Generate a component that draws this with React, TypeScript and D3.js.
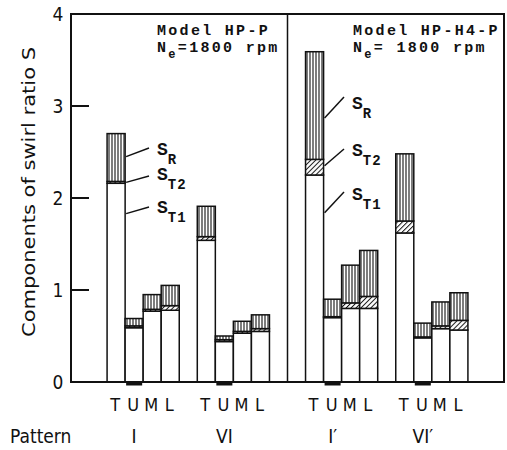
import React from "react";
import * as d3 from "d3";

// bar letters under each pattern
const positions = ["T", "U", "M", "L"];
const patterns = ["I", "VI", "I\u2032", "VI\u2032"];
// first slot (in bar widths) of each pattern group
const groupStart = [2, 7, 13, 18];

// components of swirl ratio, one row per pattern, order T U M L
const sT1 = [
  [2.16, 0.59, 0.77, 0.78],
  [1.54, 0.44, 0.53, 0.55],
  [2.25, 0.7, 0.8, 0.8],
  [1.62, 0.48, 0.58, 0.565],
];
const sT2 = [
  [0.02, 0.02, 0.02, 0.05],
  [0.04, 0.02, 0.02, 0.03],
  [0.17, 0.01, 0.06, 0.13],
  [0.13, 0.01, 0.03, 0.105],
];
const sR = [
  [0.52, 0.08, 0.16, 0.22],
  [0.33, 0.04, 0.11, 0.15],
  [1.17, 0.19, 0.41, 0.5],
  [0.73, 0.15, 0.26, 0.3],
];

const yTicks = [0, 1, 2, 3, 4];

const W = 507;
const H = 450;
const left = 71;
const right = 504;
const top = 14;
const bottom = 382;

const sans = "'DejaVu Sans Condensed', 'DejaVu Sans', sans-serif";
const mono = "'Liberation Mono', 'DejaVu Sans Mono', monospace";

export default function App() {
  const x = d3
    .scaleBand<number>()
    .domain(d3.range(24))
    .range([left, right])
    .padding(0);
  const y = d3.scaleLinear().domain([0, 4]).range([bottom, top]);
  const bw = x.bandwidth();

  const bars: any[] = [];
  patterns.forEach((p, gi) => {
    positions.forEach((pos, i) => {
      const slot = groupStart[gi] + i;
      const x0 = x(slot)!;
      const a = sT1[gi][i];
      const b = a + sT2[gi][i];
      const c = b + sR[gi][i];
      bars.push({ key: `${gi}-${i}`, x0, a, b, c, pos, gi, i });
    });
  });

  // label annotations, one per panel: T bar of I and I'
  const annot = [
    {
      gi: 0,
      lx: 157,
      items: [
        { v: 2.45, ly: 148, label: "R", ty: 155 },
        { v: 2.17, ly: 176, label: "T2", ty: 180 },
        { v: 1.83, ly: 207, label: "T1", ty: 213 },
      ],
    },
    {
      gi: 2,
      lx: 352,
      items: [
        { v: 2.87, ly: 97, label: "R", ty: 109 },
        { v: 2.35, ly: 149, label: "T2", ty: 156 },
        { v: 1.84, ly: 192, label: "T1", ty: 200 },
      ],
    },
  ];

  return (
    <svg
      width={W}
      height={H}
      style={{ position: "absolute", left: 0, top: 0, background: "#fff" }}
    >
      <defs>
        <pattern id="vert" width={3} height={4} patternUnits="userSpaceOnUse">
          <rect width={3} height={4} fill="#fff" />
          <line x1={1} y1={0} x2={1} y2={4} stroke="#111" strokeWidth={1.1} />
        </pattern>
        <pattern
          id="diag"
          width={3.5}
          height={3.5}
          patternUnits="userSpaceOnUse"
          patternTransform="rotate(45)"
        >
          <rect width={3.5} height={3.5} fill="#fff" />
          <line x1={0} y1={0} x2={0} y2={3.5} stroke="#111" strokeWidth={2} />
        </pattern>
      </defs>

      {/* bars */}
      {bars.map((d) => (
        <g key={d.key}>
          <rect
            x={d.x0}
            y={y(d.a)}
            width={bw}
            height={y(0) - y(d.a)}
            fill="#fff"
            stroke="#111"
            strokeWidth={1.5}
          />
          <rect
            x={d.x0}
            y={y(d.b)}
            width={bw}
            height={y(d.a) - y(d.b)}
            fill="url(#diag)"
            stroke="#111"
            strokeWidth={1.5}
          />
          <rect
            x={d.x0}
            y={y(d.c)}
            width={bw}
            height={y(d.b) - y(d.c)}
            fill="url(#vert)"
            stroke="#111"
            strokeWidth={1.5}
          />
          {d.i === 1 && (
            <line
              x1={d.x0 + 1}
              x2={d.x0 + bw - 1}
              y1={bottom + 2}
              y2={bottom + 2}
              stroke="#111"
              strokeWidth={3}
            />
          )}
          <text
            x={d.x0 + bw / 2 - 1}
            y={411}
            textAnchor="middle"
            fontFamily={sans}
            fontSize={18}
            fill="#111"
          >
            {d.pos}
          </text>
        </g>
      ))}

      {/* frame */}
      <rect
        x={left}
        y={top}
        width={right - left}
        height={bottom - top}
        fill="none"
        stroke="#111"
        strokeWidth={2}
      />
      <line
        x1={x(12)!}
        x2={x(12)!}
        y1={top}
        y2={bottom}
        stroke="#111"
        strokeWidth={1.5}
      />

      {/* y ticks */}
      {yTicks.map((t) => (
        <g key={t}>
          {t > 0 && t < 4 && (
            <line
              x1={left}
              x2={left + 18}
              y1={y(t)}
              y2={y(t)}
              stroke="#111"
              strokeWidth={2}
            />
          )}
          <text
            x={58}
            y={y(t)}
            dy="0.36em"
            textAnchor="middle"
            fontFamily={sans}
            fontSize={19}
            fill="#111"
          >
            {t}
          </text>
        </g>
      ))}

      <text
        transform={`translate(35, 192) rotate(-90)`}
        textAnchor="middle"
        fontFamily={sans}
        fontSize={18}
        textLength={290}
        lengthAdjust="spacingAndGlyphs"
        fill="#111"
      >
        Components of swirl ratio S
      </text>

      {/* pattern labels, centred on U bar */}
      {patterns.map((p, gi) => (
        <text
          key={p}
          x={x(groupStart[gi] + 1)! + bw / 2}
          y={443}
          textAnchor="middle"
          fontFamily={sans}
          fontSize={19}
          fill="#111"
        >
          {p}
        </text>
      ))}
      <text
        x={10}
        y={443}
        fontFamily={sans}
        fontSize={19}
        fill="#111"
      >
        Pattern
      </text>

      {/* panel titles */}
      {[
        { x0: 157, a: "Model HP-P", b: "=1800 rpm" },
        { x0: 353, a: "Model HP-H4-P", b: "= 1800 rpm" },
      ].map((t) => (
        <g
          key={t.a}
          fontFamily={mono}
          fontSize={15}
          fontWeight="bold"
          fill="#111"
          letterSpacing={2.3}
        >
          <text x={t.x0} y={35}>
            {t.a}
          </text>
          <text x={t.x0} y={52}>
            N
            <tspan fontSize={12} dy={6}>
              e
            </tspan>
            <tspan dy={-6}>{t.b}</tspan>
          </text>
        </g>
      ))}

      {/* S component labels */}
      {annot.map((an) => {
        const bx = x(groupStart[an.gi])! + bw + 1;
        return (
          <g key={an.gi}>
            {an.items.map((it) => (
              <g key={it.label}>
                <line
                  x1={bx}
                  y1={y(it.v)}
                  x2={an.lx - 8}
                  y2={it.ly}
                  stroke="#111"
                  strokeWidth={1.5}
                />
                <text
                  x={an.lx}
                  y={it.ty}
                  fontFamily={mono}
                  fontWeight="bold"
                  fontSize={18}
                  fill="#111"
                >
                  S
                  <tspan fontSize={14} dy={9} letterSpacing={1}>
                    {it.label}
                  </tspan>
                </text>
              </g>
            ))}
          </g>
        );
      })}
    </svg>
  );
}
